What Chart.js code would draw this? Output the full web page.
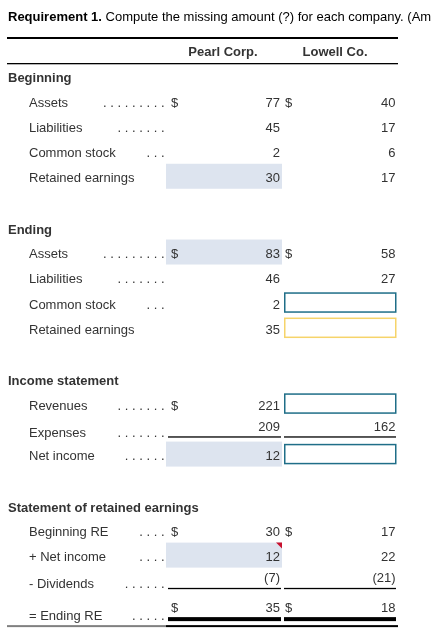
<!DOCTYPE html>
<html>
<head>
<meta charset="utf-8">
<script src="https://cdn.jsdelivr.net/npm/chart.js@4"></script>
<style>
  html, body { margin: 0; padding: 0; background: #ffffff; }
  canvas { display: block; }
</style>
</head>
<body>
<canvas id="c" width="431" height="644"></canvas>
<script>
// ---------------- DATA ----------------
const titleBold = "Requirement 1.";
const titleRest = " Compute the missing amount (?) for each company. (Amounts in millions)";
const columnHeaders = ["Pearl Corp.", "Lowell Co."];

const rowLabels = [
  "Beginning", "Assets", "Liabilities", "Common stock", "Retained earnings", "",
  "Ending", "Assets", "Liabilities", "Common stock", "Retained earnings", "",
  "Income statement", "Revenues", "Expenses", "Net income", "",
  "Statement of retained earnings", "Beginning RE", "+ Net income", "- Dividends", "= Ending RE"
];
// section | item | blank | underline | total
const rowKinds = [
  "section", "item", "item", "item", "item", "blank",
  "section", "item", "item", "item", "item", "blank",
  "section", "item", "underline", "item", "blank",
  "section", "item", "item", "underline", "total"
];
const leaderDots = [0, 9, 7, 3, 0, 0, 0, 9, 7, 3, 0, 0, 0, 7, 7, 6, 0, 0, 4, 4, 6, 5];

const pearlValues  = [null, 77, 45, 2, 30, null, null, 83, 46, 2, 35, null, null, 221, 209, 12, null, null, 30, 12, -7, 35];
const lowellValues = [null, 40, 17, 6, 17, null, null, 58, 27, null, null, null, null, null, 162, null, null, null, 17, 22, -21, 18];

const pearlDollar  = [false, true, false, false, false, false, false, true, false, false, false, false, false, true, false, false, false, false, true, false, false, true];
const lowellDollar = [false, true, false, false, false, false, false, true, false, false, false, false, false, false, false, false, false, false, true, false, false, true];

// Pearl cells shown highlighted (computed answers)
const pearlHighlighted = [4, 7, 15, 19];
// Lowell cells that are empty input boxes: "blue" or "yellow"
const lowellInputs = { 9: "blue", 10: "yellow", 13: "blue", 15: "blue" };
// cell with a red marker
const pearlFlagged = [19];

// ---------------- STYLE / LAYOUT ----------------
const FONT = "'Liberation Sans', Arial, Helvetica, sans-serif";
const TXT = "#333333";
const COL = {
  left: 7, right: 398,
  sectionX: 8, labelX: 29, leaderEnd: 164.5,
  pearlL: 166, pearlR: 282, pearlDollarX: 171, pearlValR: 280,
  lowellL: 284, lowellR: 396, lowellDollarX: 285, lowellValR: 395.5
};
const HEAD = { titleBase: 21, thickLine: 37, headerBase: 56, thinLine: 63 };

function fmt(v) {
  if (v === null || v === undefined) return "";
  return v < 0 ? "(" + Math.abs(v) + ")" : String(v);
}

const tablePlugin = {
  id: "tablePlugin",
  afterDraw(chart) {
    const ctx = chart.ctx;
    const y = chart.scales.y;
    ctx.save();

    // Title
    ctx.textBaseline = "alphabetic";
    ctx.textAlign = "left";
    ctx.fillStyle = "#000000";
    ctx.font = "bold 13px " + FONT;
    ctx.fillText(titleBold, 8, HEAD.titleBase);
    const w = ctx.measureText(titleBold).width;
    ctx.font = "13px " + FONT;
    ctx.fillText(titleRest, 8 + w, HEAD.titleBase);

    // Top rules
    ctx.fillStyle = "#000000";
    ctx.fillRect(COL.left, HEAD.thickLine, COL.right - COL.left, 2);
    ctx.fillRect(COL.left, HEAD.thinLine, COL.right - COL.left, 1.3);

    // Column headers
    ctx.fillStyle = TXT;
    ctx.font = "bold 13px " + FONT;
    ctx.textAlign = "center";
    ctx.fillText(columnHeaders[0], 223, HEAD.headerBase);
    ctx.fillText(columnHeaders[1], 335, HEAD.headerBase);

    rowLabels.forEach((label, i) => {
      const cy = y.getPixelForValue(i);
      const kind = rowKinds[i];
      let labOff = 0, valOff = 0;
      if (kind === "underline") { labOff = 2; valOff = -4; }
      if (kind === "total") { labOff = 8; valOff = 0; }

      // highlighted Pearl cell
      if (pearlHighlighted.includes(i)) {
        ctx.fillStyle = "#dde4ef";
        ctx.fillRect(COL.pearlL, cy - 14, COL.pearlR - COL.pearlL, 25);
        if (pearlFlagged.includes(i)) {
          ctx.fillStyle = "#c8102e";
          ctx.beginPath();
          ctx.moveTo(COL.pearlR - 6, cy - 14);
          ctx.lineTo(COL.pearlR, cy - 14);
          ctx.lineTo(COL.pearlR, cy - 8);
          ctx.closePath();
          ctx.fill();
        }
      }
      // Lowell input box
      if (lowellInputs[i]) {
        ctx.strokeStyle = lowellInputs[i] === "yellow" ? "#f6d46a" : "#1f6e88";
        ctx.lineWidth = 1.5;
        ctx.strokeRect(COL.lowellL + 0.75, cy - 11, COL.lowellR - COL.lowellL - 1, 19);
      }

      ctx.font = (kind === "section" ? "bold " : "") + "13px " + FONT;
      ctx.fillStyle = TXT;
      ctx.textAlign = "left";
      if (kind === "section") {
        ctx.fillText(label, COL.sectionX, cy + 5.6);
        return;
      }
      if (kind === "blank") return;

      const ly = cy + 4.6 + labOff;
      ctx.fillText(label, COL.labelX, ly);
      if (leaderDots[i] > 0) {
        ctx.textAlign = "right";
        ctx.fillText(Array(leaderDots[i]).fill(".").join(" "), COL.leaderEnd, ly);
      }

      const vy = cy + 4.6 + valOff;
      ctx.textAlign = "left";
      if (pearlDollar[i]) ctx.fillText("$", COL.pearlDollarX, vy);
      if (lowellDollar[i]) ctx.fillText("$", COL.lowellDollarX, vy);
      ctx.textAlign = "right";
      ctx.fillText(fmt(pearlValues[i]), COL.pearlValR, vy);
      ctx.fillText(fmt(lowellValues[i]), COL.lowellValR, vy);

      ctx.fillStyle = "#000000";
      if (kind === "underline") {
        ctx.fillRect(COL.pearlL + 2, cy + 6, COL.pearlR - COL.pearlL - 3, 1.3);
        ctx.fillRect(COL.lowellL, cy + 6, COL.lowellR - COL.lowellL, 1.3);
      }
      if (kind === "total") {
        ctx.fillRect(COL.pearlL + 2, cy + 10, COL.pearlR - COL.pearlL - 3, 4);
        ctx.fillRect(COL.lowellL, cy + 10, COL.lowellR - COL.lowellL, 4);
        // table bottom border
        ctx.fillStyle = "#808080";
        ctx.fillRect(COL.left, cy + 18, COL.pearlL - COL.left, 2);
        ctx.fillStyle = "#000000";
        ctx.fillRect(COL.pearlL, cy + 18, COL.right - COL.pearlL, 2);
      }
    });
    ctx.restore();
  }
};

new Chart(document.getElementById("c"), {
  type: "bar",
  data: {
    labels: rowLabels,
    datasets: [{ data: rowLabels.map(() => null), backgroundColor: "rgba(0,0,0,0)" }]
  },
  options: {
    indexAxis: "y",
    responsive: false,
    animation: false,
    devicePixelRatio: 1,
    layout: { padding: { top: 64.1, bottom: 24.25, left: 0, right: 0 } },
    scales: {
      y: { type: "category", display: false, offset: true },
      x: { type: "linear", display: false, min: 0, max: 1 }
    },
    plugins: { legend: { display: false }, tooltip: { enabled: false }, title: { display: false } }
  },
  plugins: [tablePlugin]
});
</script>
</body>
</html>
